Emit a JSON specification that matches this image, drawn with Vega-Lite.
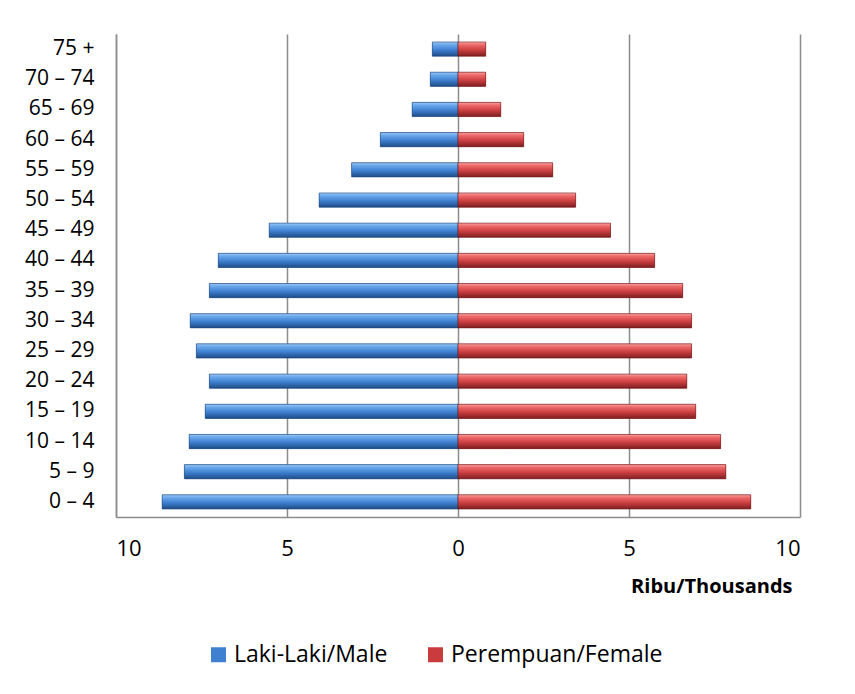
{
  "$schema": "https://vega.github.io/schema/vega-lite/v6.json",
  "width": 684,
  "height": 483,
  "autosize": {"type": "none"},
  "padding": {"left": 116, "top": 34, "right": 55, "bottom": 177},
  "background": "white",
  "config": {
    "font": "Open Sans",
    "view": {"stroke": null},
    "axis": {"labelFont": "Open Sans", "labelColor": "#000", "titleFont": "Open Sans", "titleColor": "#000"}
  },
  "data": {
    "values": [
      {"age": "75 +", "sex": "Laki-Laki/Male", "value": -0.75},
      {"age": "70 – 74", "sex": "Laki-Laki/Male", "value": -0.81},
      {"age": "65 - 69", "sex": "Laki-Laki/Male", "value": -1.34},
      {"age": "60 – 64", "sex": "Laki-Laki/Male", "value": -2.27},
      {"age": "55 – 59", "sex": "Laki-Laki/Male", "value": -3.11},
      {"age": "50 – 54", "sex": "Laki-Laki/Male", "value": -4.06},
      {"age": "45 – 49", "sex": "Laki-Laki/Male", "value": -5.52},
      {"age": "40 – 44", "sex": "Laki-Laki/Male", "value": -7.01},
      {"age": "35 – 39", "sex": "Laki-Laki/Male", "value": -7.27},
      {"age": "30 – 34", "sex": "Laki-Laki/Male", "value": -7.83},
      {"age": "25 – 29", "sex": "Laki-Laki/Male", "value": -7.65},
      {"age": "20 – 24", "sex": "Laki-Laki/Male", "value": -7.27},
      {"age": "15 – 19", "sex": "Laki-Laki/Male", "value": -7.39},
      {"age": "10 – 14", "sex": "Laki-Laki/Male", "value": -7.86},
      {"age": "5 – 9", "sex": "Laki-Laki/Male", "value": -8.0},
      {"age": "0 – 4", "sex": "Laki-Laki/Male", "value": -8.65},
      {"age": "75 +", "sex": "Perempuan/Female", "value": 0.81},
      {"age": "70 – 74", "sex": "Perempuan/Female", "value": 0.81},
      {"age": "65 - 69", "sex": "Perempuan/Female", "value": 1.25},
      {"age": "60 – 64", "sex": "Perempuan/Female", "value": 1.92},
      {"age": "55 – 59", "sex": "Perempuan/Female", "value": 2.77},
      {"age": "50 – 54", "sex": "Perempuan/Female", "value": 3.44},
      {"age": "45 – 49", "sex": "Perempuan/Female", "value": 4.46},
      {"age": "40 – 44", "sex": "Perempuan/Female", "value": 5.75},
      {"age": "35 – 39", "sex": "Perempuan/Female", "value": 6.57},
      {"age": "30 – 34", "sex": "Perempuan/Female", "value": 6.83},
      {"age": "25 – 29", "sex": "Perempuan/Female", "value": 6.83},
      {"age": "20 – 24", "sex": "Perempuan/Female", "value": 6.69},
      {"age": "15 – 19", "sex": "Perempuan/Female", "value": 6.95},
      {"age": "10 – 14", "sex": "Perempuan/Female", "value": 7.68},
      {"age": "5 – 9", "sex": "Perempuan/Female", "value": 7.83},
      {"age": "0 – 4", "sex": "Perempuan/Female", "value": 8.56}
    ]
  },
  "encoding": {
    "y": {
      "field": "age",
      "type": "nominal",
      "sort": ["75 +", "70 – 74", "65 - 69", "60 – 64", "55 – 59", "50 – 54", "45 – 49", "40 – 44",
               "35 – 39", "30 – 34", "25 – 29", "20 – 24", "15 – 19", "10 – 14", "5 – 9", "0 – 4"],
      "scale": {"paddingInner": 0.53, "paddingOuter": 0.265},
      "axis": {
        "title": null,
        "ticks": false,
        "labelFontSize": 21,
        "labelPadding": 22,
        "domainColor": "#8c8c8c",
        "domainWidth": 1.5,
        "grid": false
      }
    },
    "x": {
      "field": "value",
      "type": "quantitative",
      "scale": {"domain": [-10, 10], "nice": false},
      "axis": {
        "title": "Ribu/Thousands",
        "titleFontSize": 20,
        "titleFontWeight": "bold",
        "titleAnchor": "end",
        "titleAlign": "right",
        "titleX": 676,
        "titleY": 75,
        "titleBaseline": "alphabetic",
        "values": [-10, -5, 0, 5, 10],
        "labelExpr": "abs(datum.value)",
        "labelFontSize": 22,
        "labelPadding": 21,
        "ticks": false,
        "domainColor": "#8c8c8c",
        "domainWidth": 1.5,
        "grid": true,
        "gridColor": "#8c8c8c",
        "gridWidth": 1.5,
        "gridOpacity": 1
      }
    }
  },
  "layer": [
    {
      "mark": {"type": "bar"},
      "encoding": {
        "color": {
          "field": "sex",
          "type": "nominal",
          "scale": {"domain": ["Laki-Laki/Male", "Perempuan/Female"], "range": ["#3F80D0", "#C93B3D"]},
          "legend": {
            "title": null,
            "orient": "none",
            "direction": "horizontal",
            "legendX": 91,
            "legendY": 609,
            "symbolType": "square",
            "symbolSize": 225,
            "symbolStrokeWidth": 0,
            "labelFontSize": 23,
            "labelFont": "Open Sans",
            "labelColor": "#000",
            "labelLimit": 400,
            "labelOffset": 4,
            "columnPadding": 36
          }
        }
      }
    },
    {
      "transform": [{"filter": "datum.sex === 'Laki-Laki/Male'"}],
      "mark": {
        "type": "bar",
        "stroke": "#1E4478",
        "strokeWidth": 0.6,
        "color": {
          "gradient": "linear", "x1": 0, "y1": 0, "x2": 0, "y2": 1,
          "stops": [
            {"offset": 0, "color": "#9CC8F4"},
            {"offset": 0.2, "color": "#6AA8EC"},
            {"offset": 0.55, "color": "#3F80D0"},
            {"offset": 1, "color": "#1E4C86"}
          ]
        }
      }
    },
    {
      "transform": [{"filter": "datum.sex === 'Perempuan/Female'"}],
      "mark": {
        "type": "bar",
        "stroke": "#6E1A1C",
        "strokeWidth": 0.6,
        "color": {
          "gradient": "linear", "x1": 0, "y1": 0, "x2": 0, "y2": 1,
          "stops": [
            {"offset": 0, "color": "#F8A4A4"},
            {"offset": 0.2, "color": "#EE6A6A"},
            {"offset": 0.55, "color": "#CC4042"},
            {"offset": 1, "color": "#7E1E20"}
          ]
        }
      }
    }
  ]
}
